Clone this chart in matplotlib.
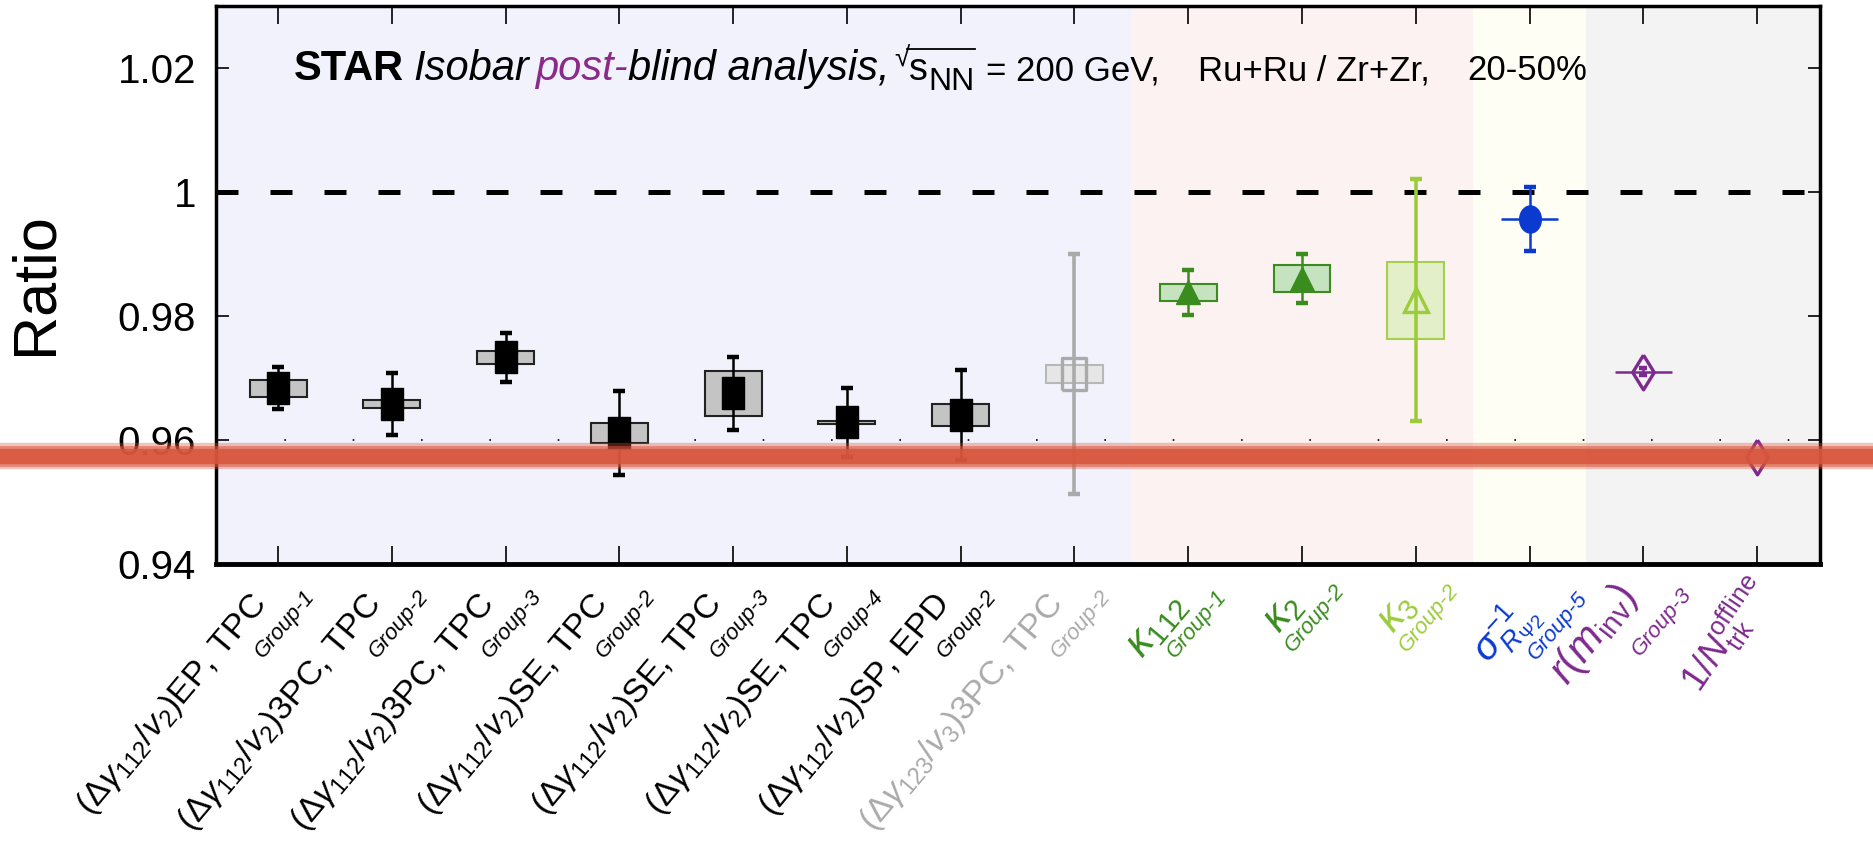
import numpy as np
import matplotlib
matplotlib.use("Agg")
import matplotlib.pyplot as plt
from matplotlib.lines import Line2D
from matplotlib.transforms import blended_transform_factory, offset_copy

plt.rcParams.update({
    "font.family": ["Liberation Sans", "DejaVu Sans"],
    "mathtext.fontset": "custom",
    "mathtext.rm": "Liberation Sans",
    "mathtext.it": "Liberation Sans:italic",
    "mathtext.bf": "Liberation Sans:bold",
    "mathtext.sf": "Liberation Sans",
})

# ---- data ----
x = np.arange(1, 15)
ratio = [0.9683, 0.9658, 0.9733, 0.9611, 0.9675, 0.9628, 0.9640,
         0.9706, 0.9838, 0.9860, 0.9825, 0.9956, 0.9710, 0.9573]
stat_err = [0.0034, 0.0050, 0.0039, 0.0068, 0.0059, 0.0055, 0.0072,
            0.0194, 0.0036, 0.0039, 0.0195, 0.0052, 0.0006, 0.0]
sys_err = [0.00135, 0.0007, 0.0010, 0.0016, 0.0036, 0.0003, 0.0017,
           0.0014, 0.00135, 0.0022, 0.0062, 0.0, 0.0, 0.0]

labels = [
    r"$(\Delta\gamma_{112}/v_{2})$EP, TPC",
    r"$(\Delta\gamma_{112}/v_{2})$3PC, TPC",
    r"$(\Delta\gamma_{112}/v_{2})$3PC, TPC",
    r"$(\Delta\gamma_{112}/v_{2})$SE, TPC",
    r"$(\Delta\gamma_{112}/v_{2})$SE, TPC",
    r"$(\Delta\gamma_{112}/v_{2})$SE, TPC",
    r"$(\Delta\gamma_{112}/v_{2})$SP, EPD",
    r"$(\Delta\gamma_{123}/v_{3})$3PC, TPC",
    r"$\kappa_{112}$",
    r"$\kappa_{2}$",
    r"$\kappa_{3}$",
    r"$\sigma^{-1}_{R_{\Psi2}}$",
    r"$r(m_{\mathrm{inv}})$",
    r"$1/N^{\mathrm{offline}}_{\mathrm{trk}}$",
]
groups = ["Group-1", "Group-2", "Group-3", "Group-2", "Group-3", "Group-4",
          "Group-2", "Group-2", "Group-1", "Group-2", "Group-2", "Group-5",
          "Group-3", ""]
yticks = [0.94, 0.96, 0.98, 1.0, 1.02]
ytick_labels = ["0.94", "0.96", "0.98", "1", "1.02"]

# ---- styles ----
BLACK, GRAY, GREEN, LGREEN = "#000000", "#aaaaaa", "#3a8c1f", "#9ccc3c"
BLUE, PURPLE = "#0a3ad0", "#7d2a8e"
colors = [BLACK] * 7 + [GRAY, GREEN, GREEN, LGREEN, BLUE, PURPLE, PURPLE]
box_face = ["#c4c4c4"] * 7 + ["#e6e6e6", "#c6e3bf", "#c6e3bf", "#e2efc9", "none", "none", "none"]
box_edge = ["#222222"] * 7 + ["#b8b8b8", GREEN, GREEN, "#a6cf4f", BLUE, PURPLE, PURPLE]

RECT = [(-0.36, -0.5), (0.36, -0.5), (0.36, 0.5), (-0.36, 0.5), (-0.36, -0.5)]
RECT_O = [(-0.39, -0.5), (0.39, -0.5), (0.39, 0.5), (-0.39, 0.5), (-0.39, -0.5)]
th = np.linspace(0, 2 * np.pi, 41)
ELLIPSE = list(zip(0.4 * np.cos(th), 0.5 * np.sin(th)))
DIAM = [(0, 0.5), (0.31, 0), (0, -0.5), (-0.31, 0), (0, 0.5)]
markers = [RECT] * 7 + [RECT_O, "^", "^", "^", ELLIPSE, DIAM, DIAM]
filled = [True] * 7 + [False, True, True, False, True, False, False]
msize = [23] * 7 + [23, 17, 17, 17, 19.5, 25, 25]

# label layout (pixels relative to tick / axis bottom)
lab_size = [24.5] * 8 + [30, 30, 30, 28, 30, 26]
lab_rot = [50] * 8 + [50, 50, 50, 48, 52, 56]
main_dx = [-30] * 8 + [-25, -22, -22, -20, -32, -15]
main_dy = [24] * 8 + [22, 22, 22, 24, 12, 5]
grp_dx = [25] * 8 + [27, 31, 31, 47, 37, 0]
grp_dy = [22] * 8 + [22, 16, 16, 24, 20, 0]

fig = plt.figure(figsize=(18.74, 8.44), dpi=100)
ax = fig.add_axes([0.115, 0.332, 0.856, 0.661])

# background bands
ax.axvspan(0.45, 8.5, color="#f2f2fc", zorder=0, lw=0)
ax.axvspan(8.5, 11.5, color="#fcf2f2", zorder=0, lw=0)
ax.axvspan(11.5, 12.5, color="#fefef4", zorder=0, lw=0)
ax.axvspan(12.5, 14.55, color="#f3f3f3", zorder=0, lw=0)

ax.axhline(1.0, color="k", lw=3.6, dashes=(4.4, 6.4), dash_capstyle="butt", zorder=2)
ax.axhline(0.96, color="k", lw=1.2, ls=(0, (1, 40)), zorder=1)

for i in range(len(x)):
    xi, yi, s, e = x[i], ratio[i], sys_err[i], stat_err[i]
    if s > 0:
        ax.bar(xi, 2 * s, bottom=yi - s, width=0.5, color=box_face[i],
               edgecolor=box_edge[i], lw=1.5, zorder=3)
    elif i in (11, 12):
        ax.hlines(yi, xi - 0.25, xi + 0.25, color=box_edge[i], lw=1.8, zorder=3)
    if e > 0:
        lw = 2.6 if i in (7, 10) else 1.8
        ax.errorbar(xi, yi, yerr=e, fmt="none", ecolor=colors[i], elinewidth=lw,
                    capsize=4.5 if i != 12 else 3, capthick=3.2, zorder=4)
    ax.plot(xi, yi, linestyle="none", marker=markers[i], ms=msize[i],
            mfc=colors[i] if filled[i] else "none", mec=colors[i],
            mew=1 if filled[i] else 2.4, zorder=5)

ax.set_xlim(0.45, 14.55)
ax.set_ylim(0.94, 1.03)
ax.set_xticks(x)
ax.set_xticklabels([])
ax.set_yticks(yticks)
ax.set_yticklabels(ytick_labels)
ax.tick_params(axis="both", direction="in", top=True, right=True,
               length=9, width=1.2, labelsize=29, pad=14)
ax.tick_params(axis="x", length=13)
for sp in ax.spines.values():
    sp.set_linewidth(2.5)
ax.spines["bottom"].set_linewidth(3.5)

# category labels: main part + small italic group tag
xt = ax.get_xaxis_transform()
for i, lab in enumerate(labels):
    tr_m = offset_copy(xt, fig=fig, x=main_dx[i], y=-main_dy[i], units="dots")
    ax.text(x[i], 0, lab, transform=tr_m, rotation=lab_rot[i],
            rotation_mode="anchor", ha="right", va="top", fontsize=lab_size[i],
            color=colors[i])
    if groups[i]:
        tr_g = offset_copy(xt, fig=fig, x=grp_dx[i], y=-grp_dy[i], units="dots")
        ax.text(x[i], 0, groups[i], transform=tr_g, rotation=50,
                rotation_mode="anchor", ha="right", va="top", fontsize=16,
                style="italic", color=colors[i])

fig.text(36 / 1874, 1 - 284 / 844, "Ratio", rotation=90, ha="center",
         va="center", fontsize=44)

# title line built piece by piece:
# (text, weight, style, colour, size, baseline shift px, gap after px)
renderer = fig.canvas.get_renderer()
W, H = fig.bbox.width, fig.bbox.height
pieces = [
    ("STAR", "bold", "normal", BLACK, 30, 0, 9),
    ("Isobar", "normal", "italic", BLACK, 30, 0, 6),
    ("post-", "normal", "italic", "#8b2a8b", 30, 0, 0),
    ("blind analysis,", "normal", "italic", BLACK, 30, 0, 5),
    ("\u221a", "normal", "normal", BLACK, 20, 14, 0),
    ("s", "normal", "normal", BLACK, 27, 0, 0),
    ("NN", "normal", "normal", BLACK, 23, -10, 12),
    ("= 200 GeV,", "normal", "normal", BLACK, 25, 0, 38),
    ("Ru+Ru / Zr+Zr,", "normal", "normal", BLACK, 25, 0, 37),
    ("20-50%", "normal", "normal", BLACK, 25, 0, 0),
]
xpos = 294
ybase = ax.transData.transform((0, 1.018))[1]
bar_x0 = bar_x1 = bar_top = None
for s, wt, st, c, fs, dy, gap in pieces:
    t = fig.text(xpos / W, (ybase + dy) / H, s, fontsize=fs, weight=wt,
                 style=st, color=c, ha="left", va="baseline")
    bb = t.get_window_extent(renderer)
    if s == "\u221a":
        bar_x0, bar_top = bb.x1 - 2, bb.y1 - 3
    if s == "NN":
        bar_x1 = bb.x1
    xpos += bb.width + gap
# overbar of the square root
fig.add_artist(Line2D([bar_x0 / W, bar_x1 / W], [bar_top / H, bar_top / H],
                      transform=fig.transFigure, color=BLACK, lw=1.3))

# red scribble band over the whole width
tr = blended_transform_factory(fig.transFigure, ax.transData)
for lw, a in [(19, 0.35), (15, 0.55), (11, 0.85)]:
    fig.add_artist(Line2D([0, 1], [0.9574, 0.9574], transform=tr, color="#d9553b",
                          lw=lw, alpha=a, zorder=10, clip_on=False))

fig.savefig("out.png", dpi=100)
